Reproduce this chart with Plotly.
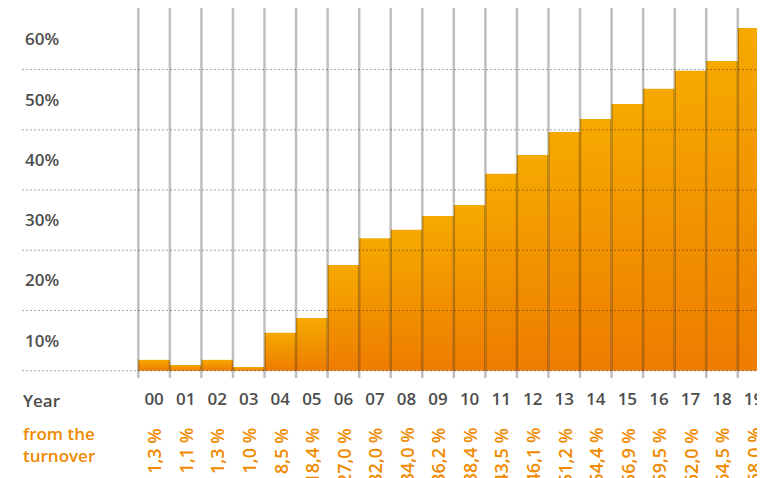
import plotly.graph_objects as go

# ---- data -------------------------------------------------------------
years = ["00", "01", "02", "03", "04", "05", "06", "07", "08", "09",
         "10", "11", "12", "13", "14", "15", "16", "17", "18", "19"]
# share of turnover as printed under each bar
share_labels = [1.3, 1.1, 1.3, 1.0, 8.5, 18.4, 27.0, 32.0, 34.0, 36.2,
                38.4, 43.5, 46.1, 51.2, 54.4, 56.9, 59.5, 62.0, 64.5, 68.0]
# drawn bar heights (axis units, one grid step = 10)
bar_heights = [1.8, 0.95, 1.8, 0.6, 6.3, 8.75, 17.55, 22.0, 23.4, 25.7,
               27.5, 32.7, 35.8, 39.65, 41.8, 44.3, 46.8, 49.8, 51.4, 56.9]
ytick_vals = [5, 15, 25, 35, 45, 55]
ytick_text = ["10%", "20%", "30%", "40%", "50%", "60%"]
grid_vals = [0, 10, 20, 30, 40, 50]

FONT = "Open Sans"
GRAY = "#4d4d4d"
ORANGE = "#F08A00"

fig = go.Figure()

for i, (yr, h) in enumerate(zip(years, bar_heights)):
    fig.add_trace(go.Scatter(
        x=[i - 0.5, i + 0.5, i + 0.5, i - 0.5, i - 0.5],
        y=[0, 0, h, h, 0],
        mode="lines",
        line=dict(width=0),
        fill="toself",
        fillgradient=dict(type="vertical",
                          colorscale=[[0, "#EE7C00"], [1, "#F6A900"]]),
        hoverinfo="skip",
        showlegend=False,
        name=yr,
    ))

shapes = []
# horizontal dotted grid lines (drawn above bars)
for g in grid_vals:
    shapes.append(dict(type="line", xref="paper", yref="y",
                       x0=0, x1=1, y0=g, y1=g, layer="above",
                       line=dict(color="rgba(0,0,0,0.35)", width=1,
                                 dash="2px,2px")))
# vertical separators at bar boundaries
for i in range(len(years)):
    shapes.append(dict(type="line", xref="x", yref="paper",
                       x0=i - 0.5, x1=i - 0.5, y0=0, y1=1, layer="above",
                       line=dict(color="rgba(0,0,0,0.25)", width=2.5)))

annotations = []
for i, v in enumerate(share_labels):
    annotations.append(dict(
        x=i, y=-0.129, xref="x", yref="paper",
        text=f"{v:.1f}".replace(".", ",") + " %",
        textangle=-90, xanchor="center", yanchor="top",
        showarrow=False,
        font=dict(family=FONT, size=18, color=ORANGE, weight=600)))
annotations.append(dict(
    x=0, y=-0.0595, xref="paper", yref="paper", text="Year",
    xanchor="left", yanchor="middle", showarrow=False, xshift=-1,
    font=dict(family=FONT, size=17, color=GRAY, weight=600)))
annotations.append(dict(
    x=0, y=-0.181, xref="paper", yref="paper", text="from the<br>turnover",
    xanchor="left", yanchor="middle", align="left", showarrow=False,
    xshift=-1,
    font=dict(family=FONT, size=17, color=ORANGE, weight=600)))

fig.update_layout(
    width=757, height=470,
    margin=dict(l=14, r=0, t=0, b=100, autoexpand=False),
    paper_bgcolor="white", plot_bgcolor="white",
    font=dict(family=FONT, color=GRAY),
    showlegend=False,
    shapes=shapes,
    annotations=annotations,
    xaxis=dict(range=[-4.187, 19.363], tickmode="array",
               tickvals=list(range(len(years))), ticktext=years,
               showgrid=False, zeroline=False, showline=False, ticks="",
               ticklabelstandoff=9, fixedrange=True, automargin=False,
               tickfont=dict(family=FONT, size=17, color=GRAY, weight=600)),
    yaxis=dict(range=[-1.21, 60.22], tickmode="array",
               tickvals=ytick_vals, ticktext=ytick_text,
               showgrid=False, zeroline=False, showline=False, ticks="",
               ticklabelposition="inside", fixedrange=True, automargin=False,
               tickfont=dict(family=FONT, size=17, color=GRAY, weight=600)),
)

fig.write_html("out.html")
